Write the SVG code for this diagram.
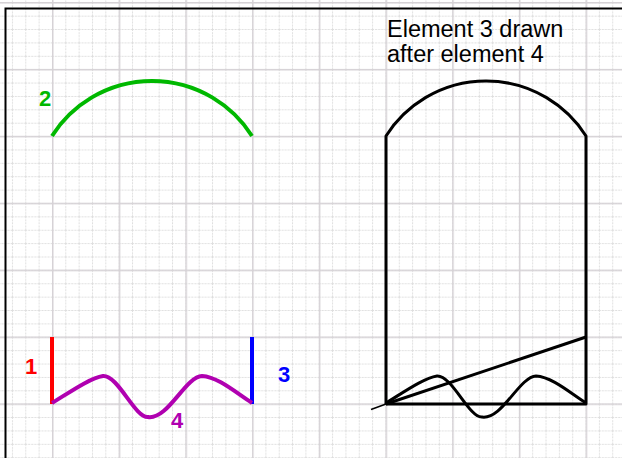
<svg xmlns="http://www.w3.org/2000/svg" width="622" height="458" viewBox="0 0 622 458">
<defs>
<pattern id="minor" x="-1.4" y="2.3" width="13.34" height="13.38" patternUnits="userSpaceOnUse">
<path d="M0.5 0V13.38M0 0.5H13.34" fill="none" stroke="#dedede" stroke-width="1" stroke-dasharray="2 1"/>
</pattern>
<pattern id="major" x="-14.7" y="2" width="66.7" height="66.9" patternUnits="userSpaceOnUse">
<path d="M0.5 0V66.9M0 0.5H66.7" fill="none" stroke="#d6d2d6" stroke-width="2"/>
</pattern>
</defs>
<style>
.lbl{font-family:"Liberation Sans",Arial,sans-serif;font-size:22px;font-weight:bold}
.note{font-family:"Liberation Sans",Arial,sans-serif;font-size:23.5px;fill:#000}
.k{fill:none;stroke:#000;stroke-width:3;stroke-linejoin:round}
</style>
<rect width="622" height="458" fill="#fff"/>
<rect width="622" height="458" fill="url(#minor)"/>
<rect width="622" height="458" fill="url(#major)"/>
<path d="M5.5 458V8.5H622" fill="none" stroke="#000" stroke-width="2"/>
<g id="e1"><line x1="52" y1="337" x2="52" y2="404" stroke="#f00" stroke-width="4"/><text class="lbl" x="25" y="374" fill="#f00">1</text></g>
<g id="e2"><path d="M52 136A118.4 118.4 0 0 1 252 136" fill="none" stroke="#00b800" stroke-width="4"/><text class="lbl" x="39" y="106" fill="#00b800">2</text></g>
<g id="e3"><line x1="252" y1="337" x2="252" y2="404" stroke="#00f" stroke-width="4"/><text class="lbl" x="278" y="381.5" fill="#00f">3</text></g>
<g id="e4"><path d="M52 403C70 392 90 378 103 376C118 375 135 418 148 417C168 420 185 377 202 376C218 377 235 392 252 403" fill="none" stroke="#b000b0" stroke-width="4"/><text class="lbl" x="171" y="428" fill="#b000b0">4</text></g>
<g id="note"><text class="note" x="387" y="37">Element 3 drawn</text><text class="note" x="387" y="62">after element 4</text></g>
<g id="shape">
<path class="k" d="M386 404V136A118.4 118.4 0 0 1 586 136V404H386"/>
<path class="k" d="M386 403C404 392 424 378 437 376C452 375 469 418 482 417C502 420 519 377 536 376C552 377 569 392 586 403"/>
<line x1="586" y1="337" x2="386" y2="404" stroke="#000" stroke-width="3"/>
<line x1="386" y1="404" x2="371" y2="409.5" stroke="#000" stroke-width="1.5"/>
</g>
</svg>
